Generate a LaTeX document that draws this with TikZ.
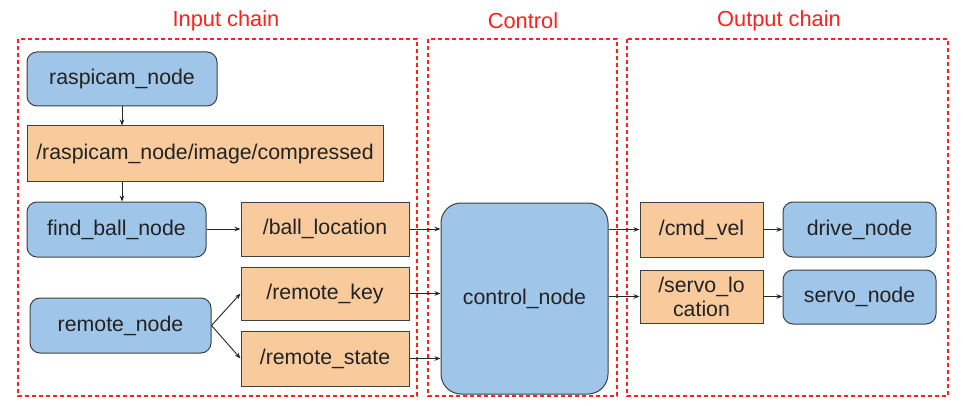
\documentclass[tikz,border=0pt]{standalone}
\usepackage{fontspec}
\setmainfont{Liberation Sans}
\usetikzlibrary{arrows.meta}
\definecolor{nodeblue}{HTML}{9FC5E8}
\definecolor{topicorange}{HTML}{F9CB9C}
\definecolor{boxred}{HTML}{FF2020}
\definecolor{edgegray}{HTML}{404040}
\definecolor{txt}{HTML}{222222}
\begin{document}
\begin{tikzpicture}[x=1pt,y=-1pt,
  base/.style={draw=edgegray,line width=1pt,inner sep=0pt,text=txt,
    font=\fontsize{21.3}{24}\selectfont,align=center},
  rosnode/.style={base,fill=nodeblue,rounded corners=10pt},
  topic/.style={base,fill=topicorange},
  group/.style={draw=boxred,line width=1.1pt,dash pattern=on 4pt off 3pt},
  grouptitle/.style={text=boxred,font=\fontsize{21.8}{26}\selectfont},
  conn/.style={draw=black!85,line width=0.9pt,-{Stealth[length=6pt,width=4.5pt]}}]
\useasboundingbox (0,0) rectangle (963,406);
\fill[white] (0,0) rectangle (963,406);

% groups
\draw[group] (18,39) rectangle (417,396);
\draw[group] (428,39) rectangle (617,396);
\draw[group] (627,39) rectangle (948,396);
\node[grouptitle] (tin) at (226,21) {Input chain};
\node[grouptitle] (tctl) at (523,21) {Control};
\node[grouptitle] (tout) at (779,21) {Output chain};

% nodes
\node[rosnode,minimum width=190pt,minimum height=54pt] (cam) at (122,79) {raspicam\_node};
\node[topic,minimum width=356pt,minimum height=56pt] (img) at (205,154) {/raspicam\_node/image/compressed};
\node[rosnode,minimum width=179pt,minimum height=55pt] (find) at (116.5,229.5) {find\_ball\_node};
\node[topic,minimum width=168pt,minimum height=54pt] (ball) at (325,229) {/ball\_location};
\node[topic,minimum width=168pt,minimum height=53pt] (key) at (325,293.5) {/remote\_key};
\node[topic,minimum width=168pt,minimum height=55pt] (state) at (325,358.5) {/remote\_state};
\node[rosnode,minimum width=181pt,minimum height=55pt] (remote) at (120.5,325.5) {remote\_node};
\node[rosnode,rounded corners=20pt,minimum width=167pt,minimum height=191pt] (ctl) at (524.5,298.5) {control\_node};
\node[topic,minimum width=123pt,minimum height=55pt] (cmd) at (701.5,229.5) {/cmd\_vel};
\node[topic,minimum width=123pt,minimum height=53pt] (servoloc) at (701.5,296.5) {/servo\_lo\\cation};
\node[rosnode,minimum width=153pt,minimum height=55pt] (drive) at (859.5,229.5) {drive\_node};
\node[rosnode,minimum width=153pt,minimum height=54pt] (servo) at (859.5,297) {servo\_node};

% connectors
\draw[conn] (cam.south) -- (cam.south |- img.north);
\draw[conn] (cam.south |- img.south) -- (cam.south |- find.north);
\draw[conn] (find.east |- ball.west) -- (ball.west);
\draw[conn] (ball.east) -- (ball.east -| ctl.west);
\draw[conn] (key.east) -- (key.east -| ctl.west);
\draw[conn] (state.east) -- (state.east -| ctl.west);
\draw[conn] (remote.east) -- (key.west);
\draw[conn] (remote.east) -- (state.west);
\draw[conn] (cmd.west -| ctl.east) -- (cmd.west);
\draw[conn] (servoloc.west -| ctl.east) -- (servoloc.west);
\draw[conn] (cmd.east) -- (drive.west);
\draw[conn] (servoloc.east) -- (servoloc.east -| servo.west);
\end{tikzpicture}
\end{document}
